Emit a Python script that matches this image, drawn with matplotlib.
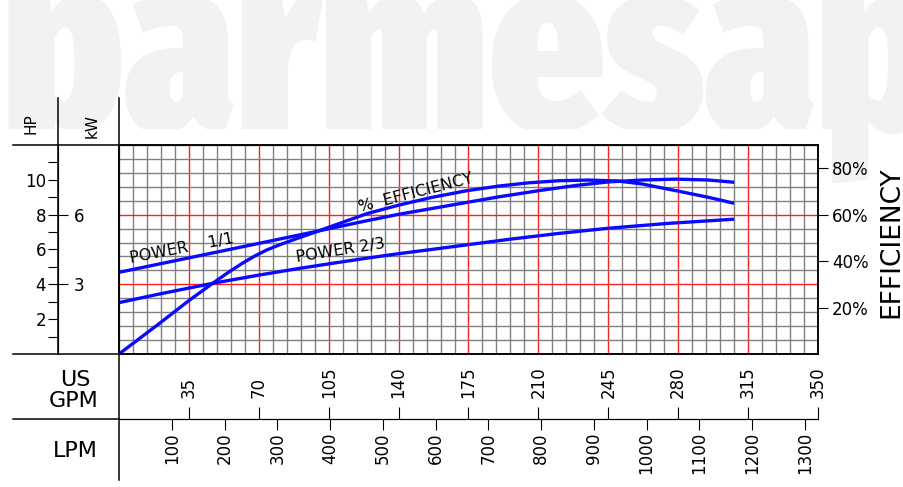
import numpy as np
import matplotlib
matplotlib.use("Agg")
import matplotlib.pyplot as plt
from matplotlib.lines import Line2D
from matplotlib.patches import Rectangle
from matplotlib import font_manager as fm
from matplotlib.font_manager import FontProperties

plt.rcParams['font.family'] = ['DejaVu Sans']

# ---------------- data ----------------
gpm_ticks = [35, 70, 105, 140, 175, 210, 245, 280, 315, 350]
lpm_ticks = [100, 200, 300, 400, 500, 600, 700, 800, 900, 1000, 1100, 1200, 1300]
hp_major = [2, 4, 6, 8, 10]
hp_minor = [1, 3, 5, 7, 9, 11]
kw_ticks = [3, 6]
eff_ticks = [20, 40, 60, 80]
eff_labels = ["20%", "40%", "60%", "80%"]

eff_gpm = [0, 20, 35, 47, 55, 62, 68, 74, 80, 88, 98, 110, 124, 140, 157, 174,
           190, 205, 220, 235, 250, 262, 279, 295, 308]
eff_pct = [0, 13.0, 23.0, 30.5, 35.3, 39.2, 42.2, 44.8, 46.9, 49.4, 52.4, 56.1,
           60.4, 64.1, 67.5, 70.3, 72.3, 73.7, 74.6, 74.9, 74.5, 73.2, 70.3,
           67.5, 64.9]

p11_gpm = [0, 35, 70, 98, 124, 140, 157, 174, 190, 212, 229, 245, 262, 279, 295, 308]
p11_hp = [4.69, 5.52, 6.35, 7.02, 7.65, 8.02, 8.36, 8.70, 9.02, 9.41, 9.68, 9.88,
          9.99, 10.04, 9.99, 9.86]

p23_gpm = [0, 20, 47, 70, 90, 107, 124, 140, 157, 175, 195, 220, 245, 275, 308]
p23_hp = [2.95, 3.44, 4.06, 4.53, 4.91, 5.21, 5.50, 5.76, 6.01, 6.28, 6.58, 6.92,
          7.22, 7.50, 7.74]

GPM_MAX, HP_MAX = 350, 12
HP_TO_KW = 0.75
HP_TO_EFF = 7.5
GPM_TO_LPM = 3.785411784

# ---------------- figure ----------------
W, H = 904, 487
fig = plt.figure(figsize=(W / 100, H / 100), dpi=100)
fig.patch.set_facecolor("white")


def fx(px):
    return px / W


def fy(py):
    return 1 - py / H


L, R, T, B = 119, 818, 145, 354
ax = fig.add_axes([fx(L), fy(B), (R - L) / W, (B - T) / H])
ax.set_xlim(0, GPM_MAX)
ax.set_ylim(0, HP_MAX)

# grid
ax.set_xticks(np.arange(35, GPM_MAX, 35))
ax.set_xticks(np.arange(0, GPM_MAX + 1, 7), minor=True)
ax.set_yticks([4, 8])
ax.set_yticks([round(0.8 * i, 2) for i in range(16)], minor=True)
ax.set_axisbelow(True)
ax.grid(which="minor", color="#808080", lw=1.0)
ax.grid(which="major", color="#ff2020", lw=1.0)
ax.tick_params(which="both", length=0, labelbottom=False, labelleft=False)
for s in ax.spines.values():
    s.set_color("black")
    s.set_linewidth(1.1)

CURVE = dict(color="#0a0aff", lw=2.4, solid_capstyle="butt", solid_joinstyle="round")
ax.plot(p11_gpm, p11_hp, **CURVE)
ax.plot(p23_gpm, p23_hp, **CURVE)

# efficiency on twin axis
ax_e = ax.twinx()
ax_e.set_ylim(0, HP_MAX * HP_TO_EFF)
ax_e.plot(eff_gpm, eff_pct, **CURVE)
ax_e.set_yticks(eff_ticks, labels=eff_labels)
ax_e.tick_params(axis="y", direction="out", length=7.2, width=0.8, pad=3,
                 labelsize=12, colors="black")
for s in ax_e.spines.values():
    s.set_color("black")
    s.set_linewidth(1.1)

# curve labels
LBL = dict(fontsize=11.5, rotation_mode="anchor", ha="left", va="baseline")
ax.text(5.9, 5.21, "POWER    1/1", rotation=11, **LBL)
ax.text(89.0, 5.28, "POWER 2/3", rotation=9, **LBL)
ax.text(120.7, 8.15, "%  EFFICIENCY", rotation=14.5, **LBL)

# HP axis (left)
loc_hp = (58 - L) / (R - L)
sec_hp = ax.secondary_yaxis(loc_hp)
sec_hp.set_yticks(hp_major)
sec_hp.set_yticks(hp_minor, minor=True)
sec_hp.tick_params(which="both", direction="out", length=7.2, width=0.8, pad=1.5,
                   labelsize=12)
sec_hp.spines["left"].set_linewidth(1.1)

# kW axis
sec_kw = ax.secondary_yaxis(loc_hp, functions=(lambda h: h * HP_TO_KW,
                                               lambda k: k / HP_TO_KW))
sec_kw.set_alignment("right")
sec_kw.set_yticks(kw_ticks)
sec_kw.tick_params(which="both", direction="out", length=7.2, width=0.8, pad=4,
                   labelsize=12)
sec_kw.yaxis.set_minor_locator(matplotlib.ticker.NullLocator())

# GPM / LPM axis
loc_x = (B - 419) / (B - T)
sec_gpm = ax.secondary_xaxis(loc_x)
sec_gpm.set_alignment("top")
sec_gpm.set_xticks(gpm_ticks)
sec_gpm.tick_params(direction="out", length=8.6, width=0.8, pad=6.5,
                    labelsize=12, labelrotation=90)
sec_gpm.xaxis.set_minor_locator(matplotlib.ticker.NullLocator())

sec_lpm = ax.secondary_xaxis(loc_x, functions=(lambda g: g * GPM_TO_LPM,
                                               lambda l: l / GPM_TO_LPM))
sec_lpm.set_alignment("bottom")
sec_lpm.set_xticks(lpm_ticks)
sec_lpm.tick_params(direction="out", length=8.0, width=0.8, pad=1.5,
                    labelsize=12, labelrotation=90)
sec_lpm.xaxis.set_minor_locator(matplotlib.ticker.NullLocator())


# frame lines outside the grid
def pline(xs, ys):
    fig.add_artist(Line2D([fx(x) for x in xs], [fy(y) for y in ys],
                          transform=fig.transFigure, color="black", lw=1.1,
                          zorder=3))


pline([13, L], [T, T])
pline([13, L], [B, B])
pline([13, L], [419, 419])
pline([58, 58], [98, T])
pline([L, L], [98, T])
pline([L, L], [B, 480])

# axis titles
fig.text(fx(75.5), fy(386), "US", fontsize=16, ha="center", va="baseline")
fig.text(fx(74), fy(407), "GPM", fontsize=16, ha="center", va="baseline")
fig.text(fx(75.5), fy(457), "LPM", fontsize=16, ha="center", va="baseline")
fig.text(fx(35.5), fy(123.5), "HP", fontsize=11, rotation=90,
         rotation_mode="anchor", ha="center", va="baseline")
fig.text(fx(97), fy(126), "kW", fontsize=11, rotation=90,
         rotation_mode="anchor", ha="center", va="baseline")
fig.text(fx(898), fy(242.5), "EFFICIENCY", fontsize=19, rotation=90,
         rotation_mode="anchor", ha="center", va="baseline")


# ---------------- watermark ----------------
def pick_font():
    best, best_score = None, -1
    for f in fm.fontManager.ttflist:
        nm = f.name
        fl = f.fname.lower().replace(" ", "").replace("-", "").replace("_", "")
        if f.style != "normal":
            continue
        if any(k in nm for k in ("CJK", "Mono", "Serif", "Math", "Display")):
            continue
        if "serif" in fl and "sans" not in fl:
            continue
        if "extracondensed" in fl:
            c = 3
        elif "ultracondensed" in fl:
            c = 2.5
        elif "semicondensed" in fl:
            c = 1
        elif "condensed" in fl or "narrow" in fl or "condensed" in nm.lower():
            c = 2
        else:
            c = 0
        w = f.weight if isinstance(f.weight, (int, float)) else fm.weight_dict.get(f.weight, 400)
        score = c * 10 + w / 100.0
        if score > best_score:
            best, best_score = f, score
    return best


fe = pick_font()
if fe is not None:
    wm_fp = FontProperties(fname=fe.fname)
else:
    wm_fp = FontProperties(family="DejaVu Sans", weight="bold")

renderer = fig.canvas.get_renderer()
probe = fig.text(0, 0, "parmesa", fontproperties=wm_fp, fontsize=100)
wpx = probe.get_window_extent(renderer).width
probe.remove()
wm_size = 100 * 815.0 / wpx
fig.text(fx(2), fy(129), "parmesap", fontproperties=wm_fp, fontsize=wm_size,
         color="#f2f2f2", ha="left", va="baseline", zorder=-5)
fig.add_artist(Rectangle((0, 0), fx(832), fy(129), transform=fig.transFigure,
                         facecolor="white", edgecolor="none", zorder=-4))

fig.savefig("out.png", dpi=100, facecolor="white")
